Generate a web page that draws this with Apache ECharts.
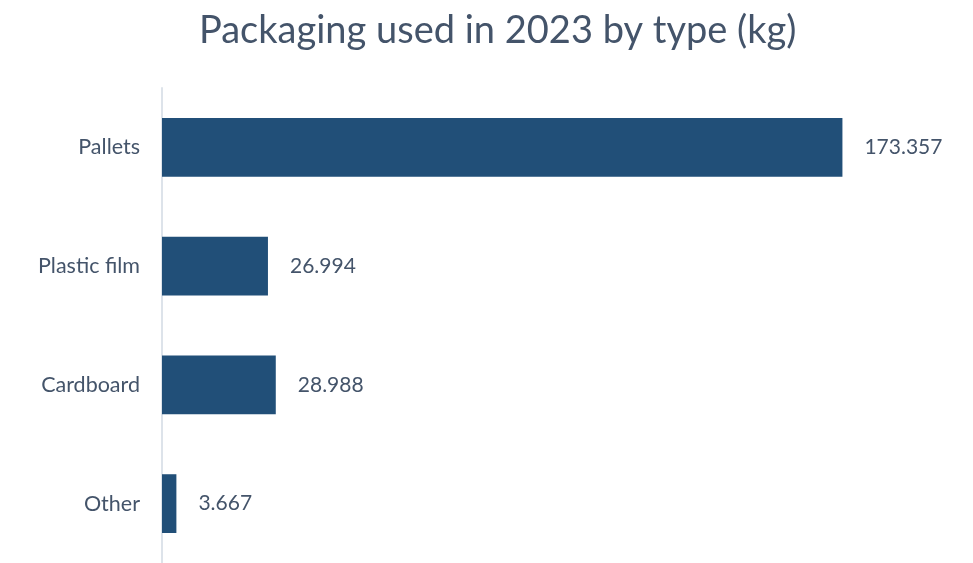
<!DOCTYPE html>
<html>
<head>
<meta charset="utf-8">
<script src="https://cdn.jsdelivr.net/npm/echarts@6/dist/echarts.min.js"></script>
<style>
  html, body { margin: 0; padding: 0; background: #fff; }
  #chart { width: 973px; height: 563px; }
</style>
</head>
<body>
<div id="chart"></div>
<script>
// Packaging quantities in 2023, kg
const categories = ['Pallets', 'Plastic film', 'Cardboard', 'Other'];
const weightsKg = [173357, 26994, 28988, 3667];

const textColor = '#44546a';
const barColor = '#214f78';
const fontFamily = 'Lato, "Open Sans", sans-serif';

// thousands separated with dots, e.g. 173.357
const fmt = v => Math.round(v).toString().replace(/\B(?=(\d{3})+(?!\d))/g, '.');

const chart = echarts.init(document.getElementById('chart'));
chart.setOption({
  animation: false,
  title: {
    text: 'Packaging used in 2023 by type (kg)',
    left: 194,
    top: 7,
    textStyle: { color: textColor, fontFamily, fontSize: 38, fontWeight: 'normal' }
  },
  grid: { left: 162, width: 785, top: 88, height: 479, containLabel: false },
  xAxis: {
    type: 'value',
    min: 0,
    max: 200000,
    show: false
  },
  yAxis: {
    type: 'category',
    data: categories,
    inverse: true,
    axisLine: { show: true, lineStyle: { color: '#dde3ea', width: 2 } },
    axisTick: { show: false },
    axisLabel: { color: textColor, fontFamily, fontSize: 21.5, margin: 22 }
  },
  series: [{
    type: 'bar',
    data: weightsKg,
    barWidth: '49.5%',
    itemStyle: { color: barColor },
    label: {
      show: true,
      position: 'right',
      distance: 22,
      color: textColor,
      fontFamily,
      fontSize: 21,
      formatter: p => fmt(p.value)
    }
  }]
});
</script>
</body>
</html>
